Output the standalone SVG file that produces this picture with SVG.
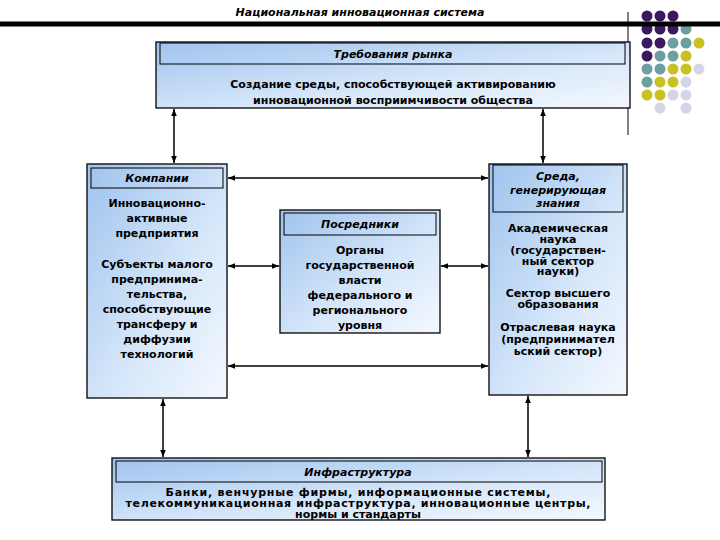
<svg xmlns="http://www.w3.org/2000/svg" width="720" height="540" viewBox="0 0 720 540">
<defs>
<linearGradient id="g" x1="0" y1="0" x2="1" y2="1">
<stop offset="0" stop-color="#9fc3ee"/><stop offset="0.6" stop-color="#d8e8fa"/><stop offset="1" stop-color="#f4f8fe"/>
</linearGradient>
<marker id="a" viewBox="0 0 10 10" refX="10" refY="5" markerWidth="7" markerHeight="7" orient="auto-start-reverse" markerUnits="userSpaceOnUse"><path d="M0,1 L10,5 L0,9 z" fill="#000"/></marker>
<style>
.box{fill:url(#g);stroke:#000;stroke-width:1.3}
.hd{fill:none;stroke:#000;stroke-width:1}
.t{font-family:"DejaVu Sans",Verdana,sans-serif;font-size:11px;font-weight:bold;text-anchor:middle;fill:#000}
.i{font-family:"DejaVu Sans",Verdana,sans-serif;font-size:11px;font-style:italic;font-weight:bold;text-anchor:middle;fill:#000}
.c{stroke:#000;stroke-width:1.5;fill:none;marker-start:url(#a);marker-end:url(#a)}
.p{fill:#3b1960}.q{fill:#6d9fa2}.y{fill:#c9c021}.l{fill:#d5d5e8}
</style>
</defs>
<rect width="720" height="540" fill="#fff"/>
<g id="dots">
<circle class="p" cx="647" cy="16" r="5.5"/><circle class="p" cx="660" cy="16" r="5.5"/><circle class="p" cx="673" cy="16" r="5.5"/>
<circle class="p" cx="647" cy="29" r="5.5"/><circle class="p" cx="660" cy="29" r="5.5"/><circle class="p" cx="673" cy="29" r="5.5"/><circle class="q" cx="686" cy="29" r="5.5"/>
<circle class="p" cx="647" cy="43" r="5.5"/><circle class="p" cx="660" cy="43" r="5.5"/><circle class="q" cx="673" cy="43" r="5.5"/><circle class="q" cx="686" cy="43" r="5.5"/><circle class="y" cx="699" cy="43" r="5.5"/>
<circle class="p" cx="647" cy="56" r="5.5"/><circle class="q" cx="660" cy="56" r="5.5"/><circle class="q" cx="673" cy="56" r="5.5"/><circle class="y" cx="686" cy="56" r="5.5"/>
<circle class="q" cx="647" cy="69" r="5.5"/><circle class="q" cx="660" cy="69" r="5.5"/><circle class="y" cx="673" cy="69" r="5.5"/><circle class="y" cx="686" cy="69" r="5.5"/><circle class="l" cx="699" cy="69" r="5.5"/>
<circle class="q" cx="647" cy="82" r="5.5"/><circle class="y" cx="660" cy="82" r="5.5"/><circle class="y" cx="673" cy="82" r="5.5"/><circle class="l" cx="686" cy="82" r="5.5"/>
<circle class="y" cx="647" cy="95" r="5.5"/><circle class="y" cx="660" cy="95" r="5.5"/><circle class="l" cx="673" cy="95" r="5.5"/><circle class="l" cx="686" cy="95" r="5.5"/>
<circle class="l" cx="660" cy="108" r="5.5"/><circle class="l" cx="686" cy="108" r="5.5"/>
</g>
<line x1="628" y1="12" x2="628" y2="135" stroke="#000" stroke-width="1"/>
<rect x="0" y="21.5" width="720" height="5" fill="#000"/>
<text class="i" x="360" y="16">Национальная инновационная система</text>
<g id="connectors">
<line class="c" x1="174" y1="109" x2="174" y2="163"/>
<line class="c" x1="543" y1="109" x2="543" y2="163"/>
<line class="c" x1="228" y1="178" x2="488" y2="178"/>
<line class="c" x1="228" y1="266" x2="279" y2="266"/>
<line class="c" x1="441" y1="266" x2="488" y2="266"/>
<line class="c" x1="228" y1="366" x2="488" y2="366"/>
<line class="c" x1="163" y1="399" x2="163" y2="457"/>
<line class="c" x1="528" y1="396" x2="528" y2="457" stroke-width="1"/>
</g>
<g id="market">
<rect class="box" x="156" y="42" width="474" height="66"/>
<rect class="hd" x="160" y="43" width="465" height="21"/>
<text class="i" x="393" y="58">Требования рынка</text>
<text class="t" x="393" y="88">Создание среды, способствующей активированию</text>
<text class="t" x="393" y="104">инновационной восприимчивости общества</text>
</g>
<g id="companies">
<rect class="box" x="87" y="164" width="140" height="234"/>
<rect class="hd" x="91" y="168" width="132" height="20"/>
<text class="i" x="157" y="182">Компании</text>
<text class="t" x="157" y="207">Инновационно-</text>
<text class="t" x="157" y="222">активные</text>
<text class="t" x="157" y="237">предприятия</text>
<text class="t" x="157" y="268">Субъекты малого</text>
<text class="t" x="157" y="283">предпринима-</text>
<text class="t" x="157" y="298">тельства,</text>
<text class="t" x="157" y="313">способствующие</text>
<text class="t" x="157" y="328">трансферу и</text>
<text class="t" x="157" y="343">диффузии</text>
<text class="t" x="157" y="358">технологий</text>
</g>
<g id="intermediaries">
<rect class="box" x="280" y="210" width="160" height="123"/>
<rect class="hd" x="284" y="213" width="152" height="22"/>
<text class="i" x="360" y="228">Посредники</text>
<text class="t" x="360" y="254">Органы</text>
<text class="t" x="360" y="269">государственной</text>
<text class="t" x="360" y="284">власти</text>
<text class="t" x="360" y="299">федерального и</text>
<text class="t" x="360" y="314">регионального</text>
<text class="t" x="360" y="329">уровня</text>
</g>
<g id="knowledge">
<rect class="box" x="489" y="164" width="138" height="231"/>
<rect class="hd" x="493" y="165" width="130" height="47"/>
<text class="i" x="558" y="180">Среда,</text>
<text class="i" x="558" y="194">генерирующая</text>
<text class="i" x="558" y="207">знания</text>
<text class="t" x="558" y="232">Академическая</text>
<text class="t" x="558" y="243">наука</text>
<text class="t" x="558" y="254">(государствен-</text>
<text class="t" x="558" y="265">ный сектор</text>
<text class="t" x="558" y="275">науки)</text>
<text class="t" x="558" y="297">Сектор высшего</text>
<text class="t" x="558" y="308">образования</text>
<text class="t" x="558" y="331">Отраслевая наука</text>
<text class="t" x="558" y="343">(предпринимател</text>
<text class="t" x="558" y="355">ьский сектор)</text>
</g>
<g id="infrastructure">
<rect class="box" x="112" y="458" width="493" height="62"/>
<rect class="hd" x="116" y="461" width="486" height="21"/>
<text class="i" x="358" y="476">Инфраструктура</text>
<text class="t" x="358" y="496" textLength="385">Банки, венчурные фирмы, информационные системы,</text>
<text class="t" x="358" y="507" textLength="465">телекоммуникационная инфраструктура, инновационные центры,</text>
<text class="t" x="358" y="518">нормы и стандарты</text>
</g>
</svg>
